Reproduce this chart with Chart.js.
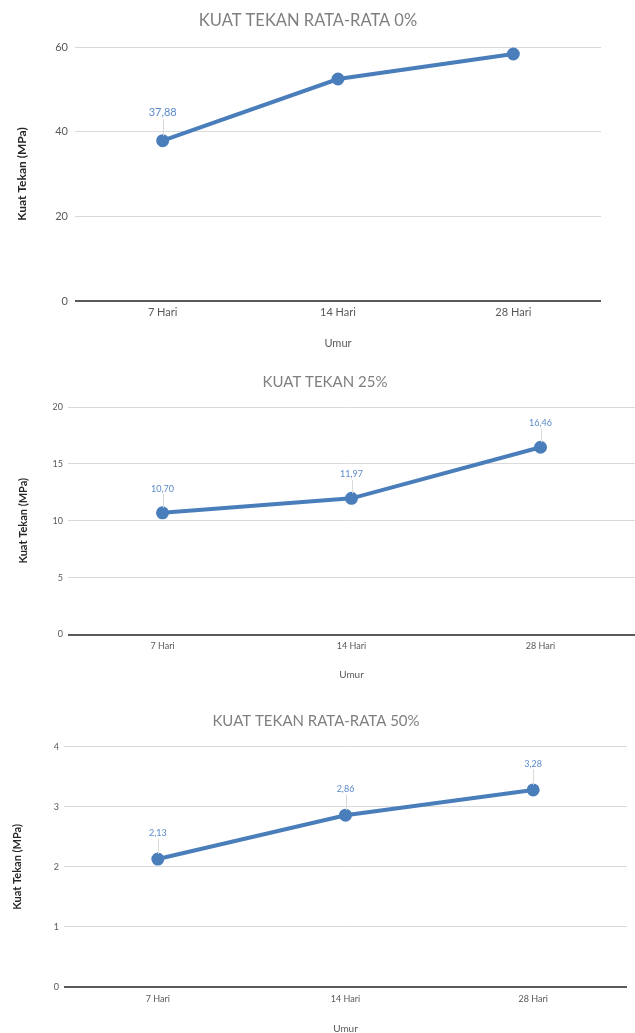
<!DOCTYPE html>
<html lang="id">
<head>
    <meta charset="UTF-8">
    <title>Kuat Tekan</title>
    <script src="https://cdn.jsdelivr.net/npm/chart.js@4.4.1/dist/chart.umd.min.js"></script>
    <style>
        html, body { margin: 0; padding: 0; background: #fff; overflow: hidden; }
        body { width: 635px; height: 1033px; position: relative; }
        .box { position: absolute; left: 0; width: 635px; }
    </style>
</head>
<body>
    <div class="box" style="top:0;height:360px"><canvas id="chart0"></canvas></div>
    <div class="box" style="top:360px;height:330px"><canvas id="chart25"></canvas></div>
    <div class="box" style="top:700px;height:345px"><canvas id="chart50"></canvas></div>

    <script>
        // data
        const categories = ['7 Hari', '14 Hari', '28 Hari'];

        const values0 = [37.88, 52.44, 58.35];
        const values25 = [10.70, 11.97, 16.46];
        const values50 = [2.13, 2.86, 3.28];

        // which points carry a value label
        const labels0 = [true, false, false];
        const labels25 = [true, true, true];
        const labels50 = [true, true, true];

        const yTicks0 = [0, 20, 40, 60];
        const yTicks25 = [0, 5, 10, 15, 20];
        const yTicks50 = [0, 1, 2, 3, 4];

        const titles = ['KUAT TEKAN RATA-RATA 0%', 'KUAT TEKAN 25%', 'KUAT TEKAN RATA-RATA 50%'];

        const FONT = 'Lato, "Open Sans", sans-serif';
        const LINE_BLUE = '#4a7ebb';

        // chart heading, placed where the original has it (not centred on the canvas)
        const heading = {
            id: 'heading',
            afterDraw(chart, args, opts) {
                const ctx = chart.ctx;
                ctx.save();
                ctx.font = opts.size + 'px ' + FONT;
                ctx.fillStyle = '#7f7f7f';
                ctx.textAlign = 'center';
                ctx.textBaseline = 'middle';
                ctx.fillText(opts.text, opts.x, opts.y);
                ctx.restore();
            }
        };

        // draws the value above each flagged point, with a thin leader line
        const pointLabels = {
            id: 'pointLabels',
            afterDatasetsDraw(chart, args, opts) {
                const ctx = chart.ctx;
                const meta = chart.getDatasetMeta(0);
                const ds = chart.data.datasets[0];
                ctx.save();
                ctx.font = opts.size + 'px ' + FONT;
                ctx.textAlign = 'center';
                ctx.textBaseline = 'middle';
                meta.data.forEach((pt, i) => {
                    if (!opts.show[i]) return;
                    const ty = pt.y - opts.gap;
                    ctx.strokeStyle = '#d9d9d9';
                    ctx.lineWidth = 1;
                    ctx.beginPath();
                    ctx.moveTo(Math.round(pt.x) + 0.5, ty + opts.size * 0.6);
                    ctx.lineTo(Math.round(pt.x) + 0.5, pt.y - 5);
                    ctx.stroke();
                    ctx.fillStyle = '#5b8ac9';
                    ctx.fillText(ds.data[i].toFixed(2).replace('.', ','), pt.x, ty);
                });
                ctx.restore();
            }
        };

        function makeChart(id, title, values, show, ticks, s) {
            const max = ticks[ticks.length - 1];
            const step = ticks[1] - ticks[0];
            return new Chart(document.getElementById(id), {
                type: 'line',
                data: {
                    labels: categories,
                    datasets: [{
                        data: values,
                        borderColor: LINE_BLUE,
                        backgroundColor: LINE_BLUE,
                        borderWidth: 4,
                        pointRadius: 4.5,
                        pointHoverRadius: 4.5,
                        tension: 0
                    }]
                },
                plugins: [pointLabels, heading],
                options: {
                    responsive: true,
                    maintainAspectRatio: false,
                    animation: false,
                    layout: {
                        autoPadding: false,
                        padding: { left: 0, right: s.right, top: s.top, bottom: 0 }
                    },
                    plugins: {
                        legend: { display: false },
                        tooltip: { enabled: false },
                        title: { display: false },
                        heading: { text: title, size: s.titleSize, x: s.titleX, y: s.titleY },
                        pointLabels: { show: show, size: s.labelSize, gap: s.labelGap }
                    },
                    scales: {
                        x: {
                            offset: true,
                            grid: { display: false, drawTicks: false, tickLength: 0 },
                            border: { display: false },
                            ticks: {
                                color: '#595959',
                                padding: s.xTickPad,
                                font: { family: FONT, size: s.tickSize }
                            },
                            title: {
                                display: true,
                                text: 'Umur',
                                color: '#595959',
                                font: { family: FONT, size: s.xTitleSize },
                                padding: { top: 0, bottom: s.xTitlePad }
                            },
                            afterFit(scale) {
                                scale.height = s.xHeight;
                                scale.paddingLeft = 0;
                                scale.paddingRight = 0;
                            }
                        },
                        y: {
                            min: 0,
                            max: max,
                            border: { display: false },
                            grid: {
                                drawTicks: false,
                                color: c => c.tick && c.tick.value === 0 ? '#595959' : '#d9d9d9',
                                lineWidth: c => c.tick && c.tick.value === 0 ? 2 : 1
                            },
                            ticks: {
                                stepSize: step,
                                color: '#595959',
                                padding: s.yTickPad,
                                font: { family: FONT, size: s.tickSize }
                            },
                            title: {
                                display: true,
                                text: 'Kuat Tekan (MPa)',
                                color: '#262626',
                                font: { family: FONT, size: s.yTitleSize, weight: 'bold' },
                                padding: { top: s.yTitlePad, bottom: 0 }
                            },
                            afterFit(scale) { scale.width = s.yWidth; }
                        }
                    }
                }
            });
        }

        makeChart('chart0', titles[0], values0, labels0, yTicks0, {
            right: 34, top: 47, titleSize: 16.5, titleX: 308, titleY: 21,
            labelSize: 11, labelGap: 28, tickSize: 11,
            xTickPad: 5, xTitleSize: 11, xTitlePad: 10, xHeight: 59,
            yTickPad: 7, yTitleSize: 12, yTitlePad: 14.8, yWidth: 75
        });

        makeChart('chart25', titles[1], values25, labels25, yTicks25, {
            right: 0, top: 47, titleSize: 15, titleX: 325, titleY: 22,
            labelSize: 9, labelGap: 24, tickSize: 9,
            xTickPad: 6, xTitleSize: 10, xTitlePad: 9, xHeight: 55.5,
            yTickPad: 5, yTitleSize: 11, yTitlePad: 16.4, yWidth: 68
        });

        makeChart('chart50', titles[2], values50, labels50, yTicks50, {
            right: 8, top: 46.7, titleSize: 15, titleX: 316, titleY: 21,
            labelSize: 9, labelGap: 26, tickSize: 9,
            xTickPad: 6.6, xTitleSize: 10, xTitlePad: 10, xHeight: 58,
            yTickPad: 5, yTitleSize: 11, yTitlePad: 10.4, yWidth: 64
        });
    </script>
</body>
</html>
